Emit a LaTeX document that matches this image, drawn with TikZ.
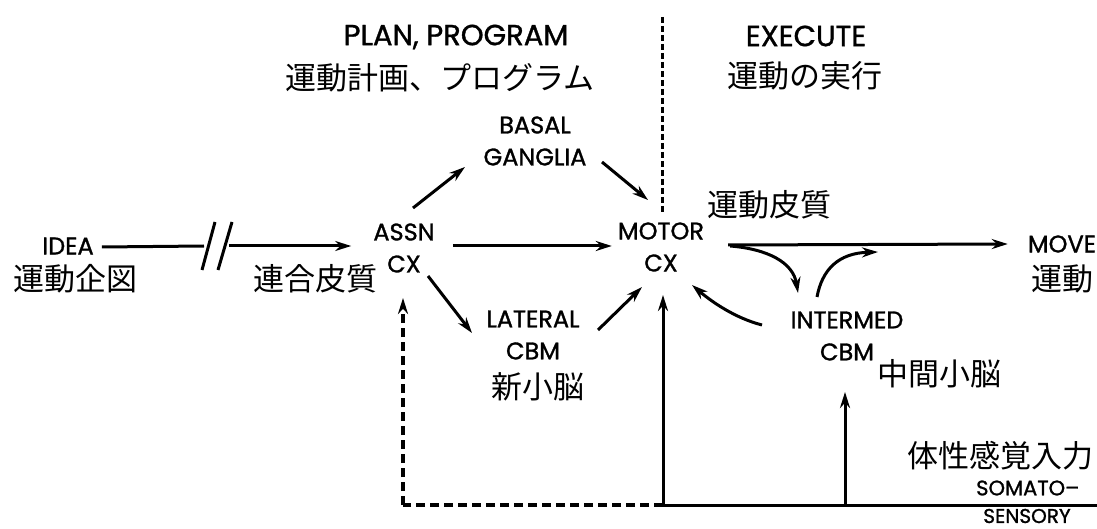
\documentclass[tikz,border=0pt]{standalone}
\usepackage{fontspec}
\setmainfont{Poppins}
\newfontfamily\labf[FakeBold=1.2]{Poppins}
\newfontfamily\jp{Noto Sans CJK JP}
\usetikzlibrary{arrows.meta,calc}
\begin{document}
\begin{tikzpicture}[x=1pt,y=-1pt,
  lbl/.style={font=\labf\fontsize{24}{32}\selectfont, align=center, inner sep=0pt},
  one/.style={font=\labf\fontsize{24}{32}\selectfont, inner sep=0pt},
  big/.style={font=\labf\fontsize{29}{32}\selectfont, inner sep=0pt},
  jl/.style={font=\jp\fontsize{31}{34}\selectfont, inner sep=0pt},
  arr/.style={-{Stealth[length=16pt,width=10pt]}, line width=3pt},
  ln/.style={line width=3pt},
  dsh/.style={line width=3.2pt, dash pattern=on 9pt off 5pt},
  vdsh/.style={line width=3pt, dash pattern=on 6pt off 3pt}]
\useasboundingbox (0,0) rectangle (1097,529);
\fill[white] (0,0) rectangle (1097,529);

% texts
\node[big] (plan) at (456,37) {PLAN, PROGRAM};
\node[jl] (planj) at (440,78) {運動計画、プログラム};
\node[big] (exec) at (806,36) {EXECUTE};
\node[jl] (execj) at (805,76) {運動の実行};
\node[lbl] (basal) at (535,141) {BASAL\\GANGLIA};
\node[one] (idea) at (68,246) {IDEA};
\node[jl] (ideaj) at (75,279) {運動企図};
\node[lbl] (assn) at (404,248) {ASSN\\CX};
\node[jl] (assnj) at (315,279) {連合皮質};
\node[lbl] (motor) at (661,247) {MOTOR\\CX};
\node[jl] (motorj) at (769,205) {運動皮質};
\node[one] (move) at (1062,244) {MOVE};
\node[jl] (movej) at (1062,279) {運動};
\node[lbl] (lateral) at (533,335) {LATERAL\\CBM};
\node[jl] (latj) at (538,387) {新小脳};
\node[lbl] (inter) at (847,336) {INTERMED\\CBM};
\node[jl] (interj) at (939,374) {中間小脳};
\node[jl] (somj) at (1000,456) {体性感覚入力};
\node[one, anchor=west, font=\labf\fontsize{21}{26}\selectfont] (soma) at (976,488) {SOMATO–};
\node[one, font=\labf\fontsize{20}{24}\selectfont] (sens) at (1027,516) {SENSORY};

% coordinates
\coordinate (brkL) at (204,246);
\coordinate (brkR) at (229,246);
\coordinate (s1a) at (202,270);
\coordinate (s1b) at (215,222);
\coordinate (s2a) at (218,270);
\coordinate (s2b) at (232,222);
\coordinate (botM) at (663,505);
\coordinate (botA) at (403,505);
\coordinate (botI) at (845,505);
\coordinate (botR) at (1097,505);
\coordinate (topD) at (662,17);
\coordinate (junc) at (878,252);

% idea -> assn with break
\draw[ln] ($(idea.east)+(8,1)$) -- (brkL);
\draw[ln] (s1a) -- (s1b);
\draw[ln] (s2a) -- (s2b);
\draw[arr] (brkR) -- ($(assn.west)+(-22,-2)$);

% main arrows
\draw[arr] ($(assn.east)+(18,-2)$) -- ($(motor.west)+(-6,-1)$);
\draw[arr] ($(motor.east)+(24,-2)$) -- ($(move.west)+(-20,0)$);
\draw[arr] ($(assn)+(9,-40)$) -- ($(basal)+(-70,26)$);
\draw[arr] ($(basal)+(67,21)$) -- ($(motor)+(-13,-47)$);
\draw[arr] ($(assn)+(24,28)$) -- ($(lateral)+(-61,-2)$);
\draw[arr] ($(lateral)+(65,-5)$) -- ($(motor)+(-19,40)$);

% cerebellar loop
\draw[arr] ($(motor.east)+(26,-1)$) .. controls (767,249) and (793,262) .. ($(inter)+(-49,-43)$);
\draw[arr] ($(inter)+(-30,-39)$) .. controls (822,270) and (838,253) .. (junc);
\draw[arr] ($(inter)+(-85,-11)$) .. controls (735,318) and (712,302) .. ($(motor)+(31,38)$);

% somatosensory
\draw[ln] (botM) -- (botR);
\draw[arr] (botM) -- ($(motor)+(2,48)$);
\draw[arr] (botI) -- ($(inter)+(-2,56)$);
\draw[dsh] (botM) -- (botA);
\draw[dsh, -{Stealth[length=16pt,width=10pt]}] (botA) -- ($(assn)+(-1,50)$);

% vertical divider
\draw[vdsh] (topD) -- ($(motor)+(1,-35)$);
\end{tikzpicture}
\end{document}
